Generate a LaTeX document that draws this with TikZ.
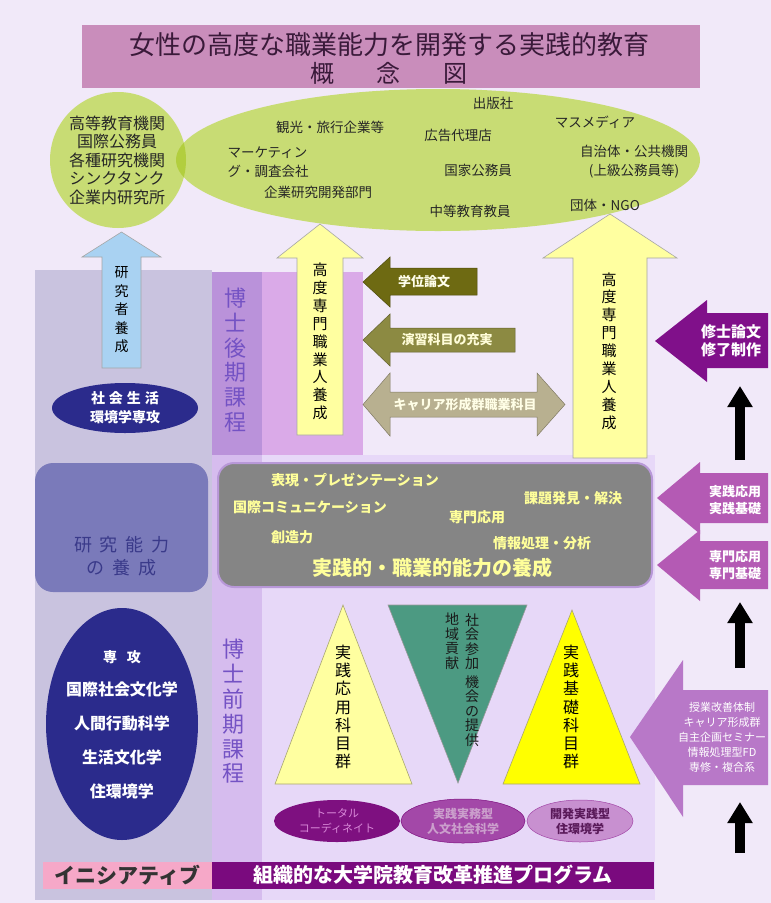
\documentclass[tikz,border=0pt]{standalone}
\usepackage{fontspec}
\setmainfont{Noto Sans CJK JP}
\usetikzlibrary{shapes.geometric,arrows.meta}
\newcommand\fsz[2]{\fontsize{#1}{#2}\selectfont}
\definecolor{bgc}{HTML}{F1E9F9}
\definecolor{titlec}{HTML}{C98DBB}
\definecolor{titlet}{HTML}{3A1A3A}
\definecolor{leafc}{HTML}{C8DC74}
\definecolor{leafd}{HTML}{B2CE3E}
\definecolor{greycol}{HTML}{C9C3DF}
\definecolor{dk1}{HTML}{BA92DA}
\definecolor{dk2}{HTML}{DAAAE8}
\definecolor{lo1}{HTML}{D6BCEE}
\definecolor{lo2}{HTML}{E7D8F8}
\definecolor{bluearr}{HTML}{A9D2F2}
\definecolor{navy}{HTML}{2B2B8C}
\definecolor{hakuc}{HTML}{7452C4}
\definecolor{ylw}{HTML}{FFFFA0}
\definecolor{olivea}{HTML}{6E6A12}
\definecolor{oliveb}{HTML}{8C8A42}
\definecolor{tanc}{HTML}{B8B090}
\definecolor{mag}{HTML}{80108A}
\definecolor{grayb}{HTML}{858585}
\definecolor{graybd}{HTML}{B898D8}
\definecolor{gtext}{HTML}{FFFF9A}
\definecolor{slate}{HTML}{7A7ABA}
\definecolor{slatet}{HTML}{3A3A8A}
\definecolor{pm}{HTML}{B45AB4}
\definecolor{pl}{HTML}{B878C8}
\definecolor{tealc}{HTML}{4C9A82}
\definecolor{ylwb}{HTML}{FFFF00}
\definecolor{ea}{HTML}{7E1080}
\definecolor{eat}{HTML}{D888D8}
\definecolor{eb}{HTML}{A348A8}
\definecolor{ec}{HTML}{C890D0}
\definecolor{ect}{HTML}{5A1A5A}
\definecolor{pinkb}{HTML}{F6A8C8}
\definecolor{bannerc}{HTML}{7A0A7E}
\begin{document}
\begin{tikzpicture}[x=1pt,y=-1pt,
  every node/.style={inner sep=0pt,align=center},
  jobtxt/.style={font=\fsz{13.5}{19}, text=black!85},
  prtxt/.style={font=\fsz{14}{16}\bfseries, text=gtext},
  hakutxt/.style={font=\fsz{22}{24.8}, text=hakuc},
  vtxt/.style={font=\fsz{15}{17.9}, text=black},
  blackarrow/.style={line width=10pt, -{Triangle[width=24pt,length=21pt]}},
  blockedge/.style={draw=gray!70, line width=0.6pt}]
\useasboundingbox (0,0) rectangle (771,903);
\fill[bgc] (0,0) rectangle (771,903);

% background regions
\fill[greycol] (35,270) rectangle (212,900);
\fill[dk1] (212,272) rectangle (262,455);
\fill[dk2] (262,272) rectangle (363,455);
\fill[lo1] (212,455) rectangle (262,900);
\fill[lo2] (262,455) rectangle (655,900);

% title
\node[fill=titlec, minimum width=618pt, minimum height=63pt] (title) at (391,56.5) {};
\node[font=\fsz{26}{26}, text=titlet] (t1) at (389,45) {女性の高度な職業能力を開発する実践的教育};
\node[font=\fsz{24}{24}, text=titlet] (t2) at (389,73) {概\hspace{43pt}念\hspace{43pt}図};

% circle and ellipse
\node[circle, fill=leafc, minimum size=136pt] (orgs) at (118,160) {};
\node[ellipse, fill=leafc, minimum width=524pt, minimum height=142pt] (jobs) at (438,160) {};
\begin{scope}
  \clip (118,160) circle [radius=68pt];
  \fill[leafd] (438,160) ellipse [x radius=262pt, y radius=71pt];
\end{scope}
\node[font=\fsz{16}{18.5}, text=black!85] (orgtxt) at (117,160) {高等教育機関\\国際公務員\\各種研究機関\\シンクタンク\\企業内研究所};
\node[jobtxt] (j1) at (493,103) {出版社};
\node[jobtxt] (j2) at (595,122) {マスメディア};
\node[jobtxt] (j3) at (330,127) {観光・旅行企業等};
\node[jobtxt] (j4) at (458,135) {広告代理店};
\node[jobtxt, align=left] (j5) at (268,162) {マーケティン\\グ・調査会社};
\node[jobtxt] (j6) at (634,162) {自治体・公共機関\\(上級公務員等)};
\node[jobtxt] (j7) at (478,170) {国家公務員};
\node[jobtxt] (j8) at (318,192) {企業研究開発部門};
\node[jobtxt] (j9) at (605,205) {団体・NGO};
\node[jobtxt] (j10) at (470,211) {中等教育教員};

% blue arrow
\path[fill=bluearr, blockedge] (102,368) -- (102,257) -- (82,257) -- (121.5,232) -- (161,257) -- (141,257) -- (141,368) -- cycle;
\node[font=\fsz{14}{18.5}, text=black] (restxt) at (121.5,310) {研\\究\\者\\養\\成};

% doctoral-course ellipse
\node[ellipse, fill=navy, minimum width=146pt, minimum height=50pt, font=\fsz{14}{19}\bfseries, text=white] (shakai) at (125,408) {社\hspace{4pt}会\hspace{4pt}生\hspace{4pt}活\\環境学専攻};

% 博士後期課程
\node[hakutxt] (dk) at (235,360) {博\\士\\後\\期\\課\\程};

% yellow arrows
\path[fill=ylw, blockedge] (297,435) -- (297,258) -- (277,258) -- (320,224) -- (363,258) -- (343,258) -- (343,435) -- cycle;
\node[vtxt] (y1t) at (320,341.5) {高\\度\\専\\門\\職\\業\\人\\養\\成};
\path[fill=ylw, blockedge] (573,458) -- (573,258) -- (543,258) -- (610,214) -- (677,258) -- (647,258) -- (647,458) -- cycle;
\node[vtxt] (y2t) at (609,351) {高\\度\\専\\門\\職\\業\\人\\養\\成};

% olive arrows
\path[fill=olivea, draw=olivea!70!black, line width=0.5pt] (477,268) -- (390,268) -- (390,257) -- (363,282) -- (390,307) -- (390,295) -- (477,295) -- cycle;
\node[font=\fsz{13}{13}\bfseries, text=white!92!yellow] (gakui) at (424,282) {学位論文};
\path[fill=oliveb, draw=oliveb!70!black, line width=0.5pt] (515,328) -- (390,328) -- (390,314) -- (363,340) -- (390,366) -- (390,352) -- (515,352) -- cycle;
\node[font=\fsz{13}{13}\bfseries, text=white!85!yellow] (ensh) at (447,340) {演習科目の充実};
\path[fill=tanc, draw=tanc!70!black, line width=0.5pt] (363,404.5) -- (390,373) -- (390,392) -- (537,392) -- (537,373) -- (565,404.5) -- (537,436) -- (537,417) -- (390,417) -- (390,436) -- cycle;
\node[font=\fsz{13}{13}\bfseries, text=white!90!yellow] (career) at (465,404.5) {キャリア形成群職業科目};

% master thesis arrow
\path[fill=mag] (768,313) -- (707,313) -- (707,300) -- (655,341) -- (707,382) -- (707,368) -- (768,368) -- cycle;
\node[font=\fsz{15}{18}\bfseries, text=white] (shushi) at (731,341) {修士論文\\修了制作};

% black arrows
\coordinate (b1s) at (740,460); \coordinate (b1e) at (740,386);
\coordinate (b2s) at (740,668); \coordinate (b2e) at (740,602);
\coordinate (b3s) at (740,853); \coordinate (b3e) at (740,802);
\draw[blackarrow] (b1s) -- (b1e);
\draw[blackarrow] (b2s) -- (b2e);
\draw[blackarrow] (b3s) -- (b3e);

% research ability box
\node[fill=slate, rounded corners=18pt, minimum width=173pt, minimum height=129pt] (resbox) at (121.5,527.5) {};
\node[font=\fsz{18}{23}, text=slatet] (restx) at (122,556.5) {研\hspace{8pt}究\hspace{8pt}能\hspace{8pt}力\\の\hspace{8pt}養\hspace{8pt}成};

% practical ability box
\node[draw=graybd, line width=2pt, fill=grayb, rounded corners=16pt, minimum width=434pt, minimum height=124pt] (prac) at (435,525) {};
\node[prtxt] (p1) at (355,480) {表現・プレゼンテーション};
\node[prtxt] (p2) at (310,507) {国際コミュニケーション};
\node[prtxt] (p3) at (292,537) {創造力};
\node[prtxt] (p4) at (573,498) {課題発見・解決};
\node[prtxt] (p5) at (477,517) {専門応用};
\node[prtxt] (p6) at (542,543) {情報処理・分析};
\node[font=\fsz{20}{20}\bfseries, text=gtext] (p7) at (432,568) {実践的・職業的能力の養成};

% right purple arrows
\path[fill=pm] (768,473) -- (700,473) -- (700,462) -- (657,498) -- (700,534) -- (700,523) -- (768,523) -- cycle;
\node[font=\fsz{13}{17}\bfseries, text=white] (a1t) at (735,500) {実践応用\\実践基礎};
\path[fill=pm] (768,541) -- (700,541) -- (700,530) -- (657,565) -- (700,601) -- (700,589) -- (768,589) -- cycle;
\node[font=\fsz{13}{17}\bfseries, text=white] (a2t) at (735,565) {専門応用\\専門基礎};
\path[fill=pl] (768,690) -- (683,690) -- (683,660) -- (630,737) -- (683,817) -- (683,785) -- (768,785) -- cycle;
\node[font=\fsz{11}{15}, text=white] (a3t) at (722,737) {授業改善体制\\キャリア形成群\\自主企画セミナー\\情報処理型FD\\専修・複合系};

% majors ellipse
\node[ellipse, fill=navy, minimum width=152pt, minimum height=232pt] (majors) at (122,724) {};
\node[font=\fsz{16}{33.75}\bfseries, text=white] (majt) at (122,724.5) {{\fsz{14}{33.75}専\hspace{10pt}攻}\\国際社会文化学\\人間行動科学\\生活文化学\\住環境学};

% 博士前期課程
\node[hakutxt] (mk) at (233,711.5) {博\\士\\前\\期\\課\\程};

% triangles
\path[fill=ylw, draw=olivea!60, line width=0.6pt] (275,784) -- (343,605) -- (412,784) -- cycle;
\node[font=\fsz{16}{18.3}, text=black] (tr1) at (343,707) {実\\践\\応\\用\\科\\目\\群};
\path[fill=tealc, draw=gray!80, line width=0.6pt] (388,605) -- (527,605) -- (458,783) -- cycle;
\node[font=\fsz{14}{14.5}, text=black!90] (tr2a) at (472,680) {社\\会\\参\\加\\[4pt]機\\会\\の\\提\\供};
\node[font=\fsz{14}{14.5}, text=black!90] (tr2b) at (452,641) {地\\域\\貢\\献};
\path[fill=ylwb, draw=olivea!60, line width=0.6pt] (503,784) -- (572,610) -- (640,784) -- cycle;
\node[font=\fsz{16}{18.3}, text=black] (tr3) at (571,707) {実\\践\\基\\礎\\科\\目\\群};

% small ellipses
\node[ellipse, fill=ea, minimum width=126pt, minimum height=42pt, font=\fsz{11}{15}, text=eat] (o1) at (337,821) {トータル\\コーディネイト};
\node[ellipse, fill=eb, draw=ea, line width=0.5pt, minimum width=124pt, minimum height=44pt, font=\fsz{12}{15}\bfseries, text=ea!40!white] (o2) at (463,821) {実践実務型\\人文社会科学};
\node[ellipse, fill=ec, draw=eb, line width=0.5pt, minimum width=106pt, minimum height=42pt, font=\fsz{12}{15}\bfseries, text=ect] (o3) at (580,821) {開発実践型\\住環境学};

% banner
\node[fill=pinkb, minimum width=169pt, minimum height=27pt, font=\fsz{21}{21}\bfseries, text=black!80] (ini) at (127.5,875) {イニシアティブ};
\node[fill=bannerc, minimum width=442pt, minimum height=27pt, font=\fsz{20}{20}\bfseries, text=white] (prog) at (433,875) {組織的な大学院教育改革推進プログラム};
\end{tikzpicture}
\end{document}
